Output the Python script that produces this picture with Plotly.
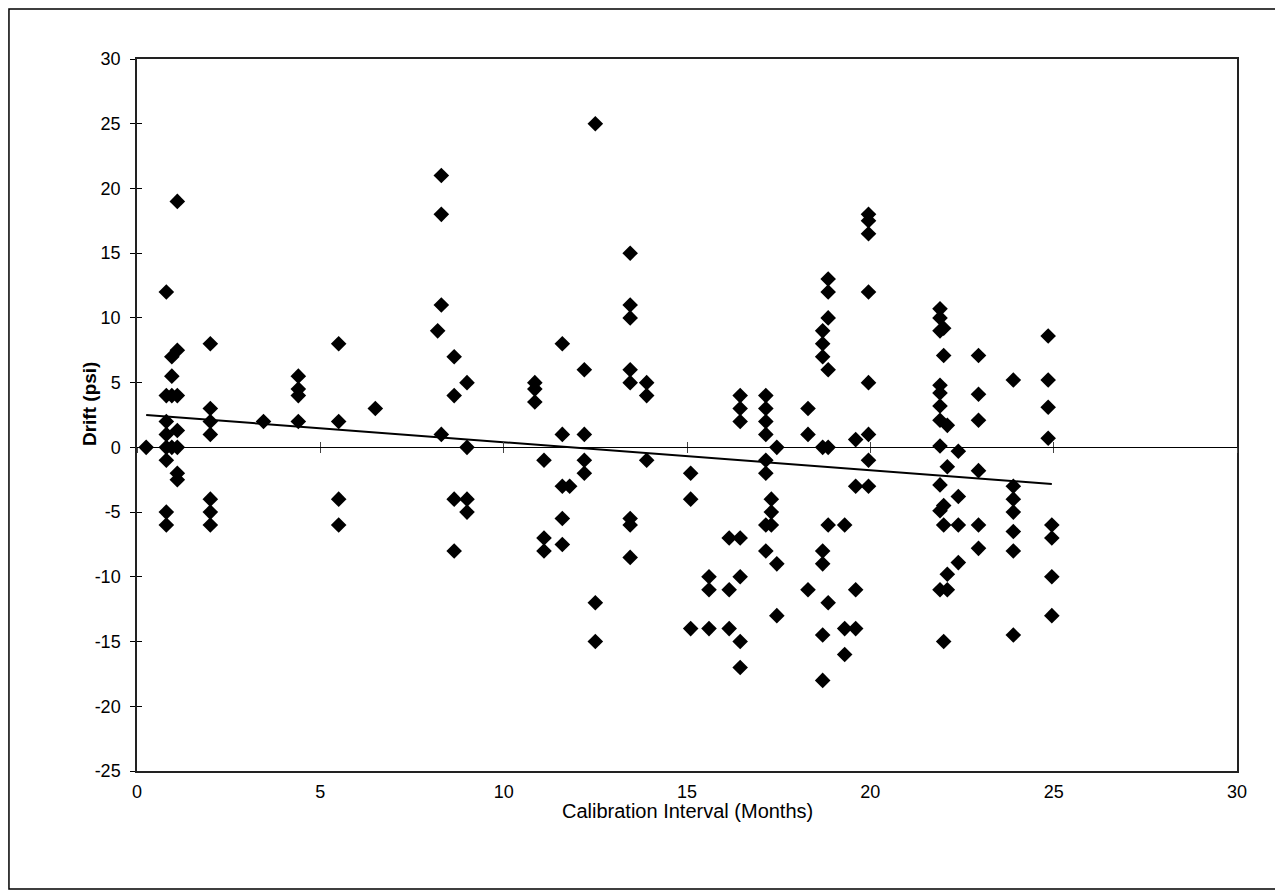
import numpy as np
import plotly.graph_objects as go

# Calibration interval (months) and drift (psi)
interval = (
    [0.25]
    + [0.8] * 8
    + [0.95] * 4
    + [1.1] * 7
    + [2.0] * 7
    + [3.45]
    + [4.4] * 4
    + [5.5] * 4
    + [6.5]
    + [8.2]
    + [8.3] * 4
    + [8.65] * 4
    + [9.0] * 4
    + [10.85] * 3
    + [11.1] * 3
    + [11.6] * 5
    + [11.8]
    + [12.2] * 4
    + [12.5] * 3
    + [13.45] * 8
    + [13.9] * 3
    + [15.1] * 3
    + [15.6] * 3
    + [16.15] * 3
    + [16.45] * 7
    + [17.15] * 8
    + [17.3] * 3
    + [17.45] * 3
    + [18.3] * 3
    + [18.7] * 8
    + [18.85] * 7
    + [19.3] * 3
    + [19.6] * 4
    + [19.95] * 8
    + [21.9] * 11
    + [22.0] * 5
    + [22.1] * 4
    + [22.4] * 4
    + [22.95] * 6
    + [23.9] * 7
    + [24.85] * 4
    + [24.95] * 4
)

drift = (
    [0]
    + [12, 4, 2, 1, 0, -1, -5, -6]
    + [7, 5.5, 4, 0]
    + [19, 7.5, 4, 1.3, 0, -2, -2.5]
    + [8, 3, 2, 1, -4, -5, -6]
    + [2]
    + [5.5, 4.5, 4, 2]
    + [8, 2, -4, -6]
    + [3]
    + [9]
    + [21, 18, 11, 1]
    + [7, 4, -4, -8]
    + [5, 0, -4, -5]
    + [5, 4.5, 3.5]
    + [-1, -7, -8]
    + [8, 1, -3, -5.5, -7.5]
    + [-3]
    + [6, 1, -1, -2]
    + [25, -12, -15]
    + [15, 11, 10, 6, 5, -5.5, -6, -8.5]
    + [5, 4, -1]
    + [-2, -4, -14]
    + [-10, -11, -14]
    + [-7, -11, -14]
    + [4, 3, 2, -7, -10, -15, -17]
    + [4, 3, 2, 1, -1, -2, -6, -8]
    + [-4, -5, -6]
    + [0, -9, -13]
    + [3, 1, -11]
    + [9, 8, 7, 0, -8, -9, -14.5, -18]
    + [13, 12, 10, 6, 0, -6, -12]
    + [-6, -14, -16]
    + [0.6, -3, -11, -14]
    + [18, 17.5, 16.5, 12, 5, 1, -1, -3]
    + [10.7, 10, 9, 4.8, 4.2, 3.2, 2.1, 0.1, -2.9, -4.9, -11]
    + [9.2, 7.1, -4.5, -6, -15]
    + [1.7, -1.5, -9.8, -11]
    + [-0.3, -3.8, -6, -8.9]
    + [7.1, 4.1, 2.1, -1.8, -6, -7.8]
    + [5.2, -3, -4, -5, -6.5, -8, -14.5]
    + [8.6, 5.2, 3.1, 0.7]
    + [-6, -7, -10, -13]
)

x_ticks = [0, 5, 10, 15, 20, 25, 30]
y_ticks = [-25, -20, -15, -10, -5, 0, 5, 10, 15, 20, 25, 30]
y_tick_labels = [str(v) for v in y_ticks]
x_title = "Calibration Interval (Months)"
y_title = "Drift (psi)"

# Linear trend line (least squares) over the data range
slope, intercept = np.polyfit(interval, drift, 1)
trend_x = [min(interval), max(interval)]
trend_y = [intercept + slope * v for v in trend_x]

FONT = "Liberation Sans, Arial, sans-serif"

fig = go.Figure()
fig.add_trace(go.Scatter(
    x=interval, y=drift, mode="markers",
    marker=dict(symbol="diamond", size=12, color="black", line=dict(width=0)),
    showlegend=False, hoverinfo="x+y",
))
fig.add_trace(go.Scatter(
    x=trend_x, y=trend_y, mode="lines",
    line=dict(color="black", width=2), showlegend=False, hoverinfo="skip",
))
# invisible traces to anchor the helper axes
fig.add_trace(go.Scatter(x=[None], y=[None], xaxis="x2", yaxis="y", showlegend=False, hoverinfo="skip"))
fig.add_trace(go.Scatter(x=[None], y=[None], xaxis="x3", yaxis="y", showlegend=False, hoverinfo="skip"))
fig.add_trace(go.Scatter(x=[None], y=[None], xaxis="x", yaxis="y2", showlegend=False, hoverinfo="skip"))

zero_pos = (0 - y_ticks[0]) / (y_ticks[-1] - y_ticks[0])

fig.update_layout(
    width=1283, height=892,
    margin=dict(l=129, r=54, t=51, b=129),
    paper_bgcolor="white", plot_bgcolor="white",
    font=dict(family=FONT, color="black", size=18),
    xaxis=dict(
        range=[x_ticks[0], x_ticks[-1]], tickvals=x_ticks, ticks="",
        showgrid=False, zeroline=False, showline=True, mirror=True,
        linecolor="#222", linewidth=1.5,
        tickfont=dict(size=18), ticklabelstandoff=4,
    ),
    xaxis2=dict(
        overlaying="x", anchor="free", position=zero_pos, matches="x",
        range=[x_ticks[0], x_ticks[-1]], tickvals=x_ticks, ticks="outside", ticklen=5,
        showticklabels=False, showgrid=False, zeroline=False,
        showline=True, linecolor="black", linewidth=1,
    ),
    xaxis3=dict(
        overlaying="x", anchor="free", position=zero_pos, matches="x",
        range=[x_ticks[0], x_ticks[-1]], tickvals=x_ticks, ticks="inside", ticklen=5,
        showticklabels=False, showgrid=False, zeroline=False,
        showline=False,
    ),
    yaxis=dict(
        range=[y_ticks[0], y_ticks[-1]], tickvals=y_ticks, ticktext=y_tick_labels,
        ticks="outside", ticklen=5, tickcolor="black",
        showgrid=False, zeroline=False, showline=True, mirror=True,
        linecolor="#222", linewidth=1.5,
        tickfont=dict(size=18), ticklabelstandoff=6,
    ),
    yaxis2=dict(
        overlaying="y", anchor="x", side="left", matches="y",
        range=[y_ticks[0], y_ticks[-1]], tickvals=y_ticks, ticks="inside", ticklen=5,
        tickcolor="black", showticklabels=False, showgrid=False, zeroline=False,
        showline=False,
    ),
    annotations=[
        dict(text=x_title, xref="paper", yref="paper", x=0.5, y=-0.056,
             xanchor="center", yanchor="middle", showarrow=False,
             font=dict(size=20)),
        dict(text="<b>" + y_title + "</b>", xref="paper", yref="paper", x=-0.043, y=0.515,
             xanchor="center", yanchor="middle", textangle=-90, showarrow=False,
             font=dict(size=19)),
    ],
    shapes=[dict(
        type="rect", xref="paper", yref="paper",
        x0=-0.1164, x1=1.039, y0=-0.1657, y1=1.0702,
        line=dict(color="black", width=1.5), fillcolor="rgba(0,0,0,0)",
    )],
)

fig.write_html("out.html")
